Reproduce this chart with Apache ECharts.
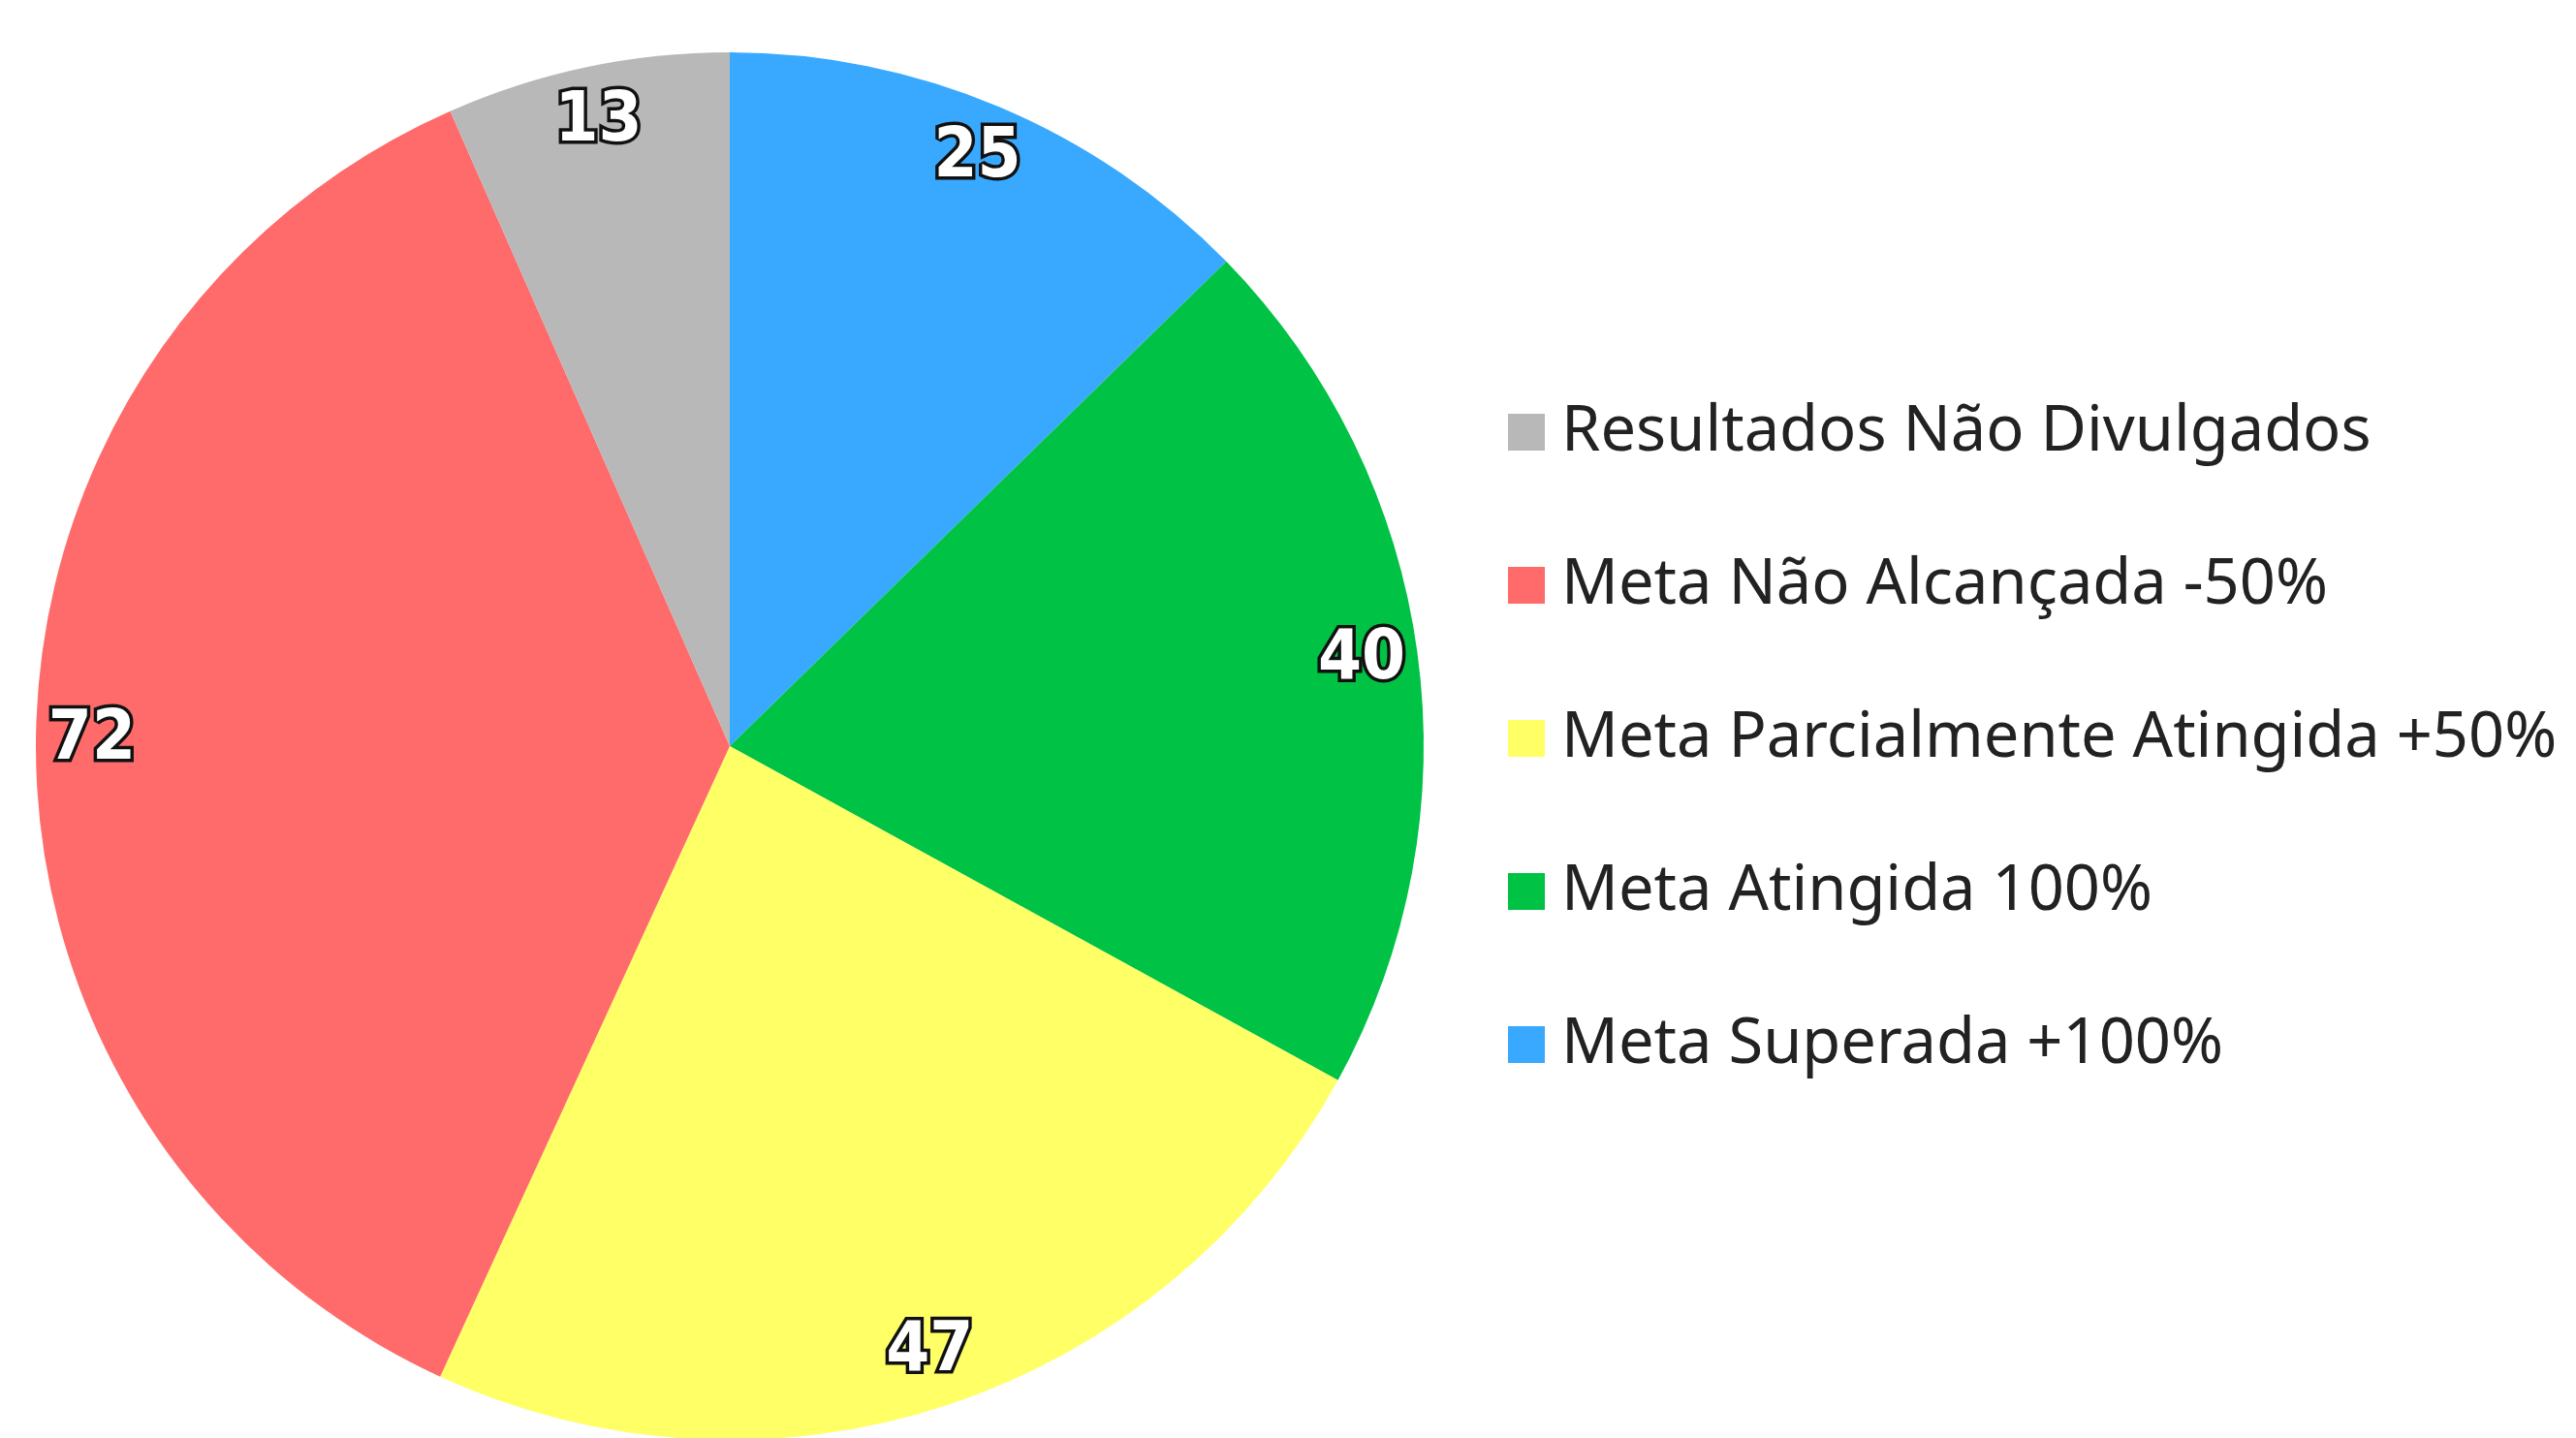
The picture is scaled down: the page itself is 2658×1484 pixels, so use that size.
<!DOCTYPE html>
<html>
<head>
<meta charset="utf-8">
<script src="https://cdn.jsdelivr.net/npm/echarts@6/dist/echarts.min.js"></script>
<style>
  html, body { margin: 0; padding: 0; background: #fff; }
  #chart { width: 2658px; height: 1484px; }
</style>
</head>
<body>
<div id="chart"></div>
<script>
// slices clockwise from 12 o'clock
const categories = [
  'Meta Superada +100%',
  'Meta Atingida 100%',
  'Meta Parcialmente Atingida +50%',
  'Meta Não Alcançada -50%',
  'Resultados Não Divulgados'
]
const values = [25, 40, 47, 72, 13]
const colors = ['#39a9ff', '#00c244', '#ffff66', '#ff6b6b', '#b8b8b8']
// legend lists them the other way round
const legendOrder = [
  'Resultados Não Divulgados',
  'Meta Não Alcançada -50%',
  'Meta Parcialmente Atingida +50%',
  'Meta Atingida 100%',
  'Meta Superada +100%'
]

const chart = echarts.init(document.getElementById('chart'))

const center = [753, 770]
const outerR = 716

const pieData = categories.map((name, i) => ({
  name, value: values[i], itemStyle: { color: colors[i] }
}))

chart.setOption({
  animation: false,
  legend: {
    orient: 'vertical',
    left: 1551,
    top: 401,
    data: legendOrder,
    icon: 'rect',
    itemWidth: 38,
    itemHeight: 38,
    itemGap: 78,
    textStyle: {
      fontFamily: 'Noto Sans',
      fontSize: 65,
      lineHeight: 80,
      color: '#222',
      padding: [0, 0, 0, 12]
    }
  },
  series: [
    {
      type: 'pie',
      center,
      radius: [0, outerR],
      startAngle: 90,
      clockwise: true,
      data: pieData,
      label: { show: false },
      labelLine: { show: false },
      silent: true
    },
    {
      // transparent ring only used to place the value labels near the rim
      type: 'pie',
      center,
      radius: [outerR * 0.83, outerR],
      startAngle: 90,
      clockwise: true,
      silent: true,
      data: pieData.map(d => ({ name: d.name, value: d.value, itemStyle: { color: 'rgba(0,0,0,0)' } })),
      label: {
        show: true,
        position: 'inside',
        formatter: '{c}',
        fontFamily: '"DejaVu Sans Condensed", "Liberation Sans", sans-serif',
        fontWeight: 'bold',
        fontSize: 72,
        color: '#fff',
        textBorderColor: '#111',
        textBorderWidth: 7
      },
      labelLine: { show: false }
    }
  ]
})
</script>
</body>
</html>
